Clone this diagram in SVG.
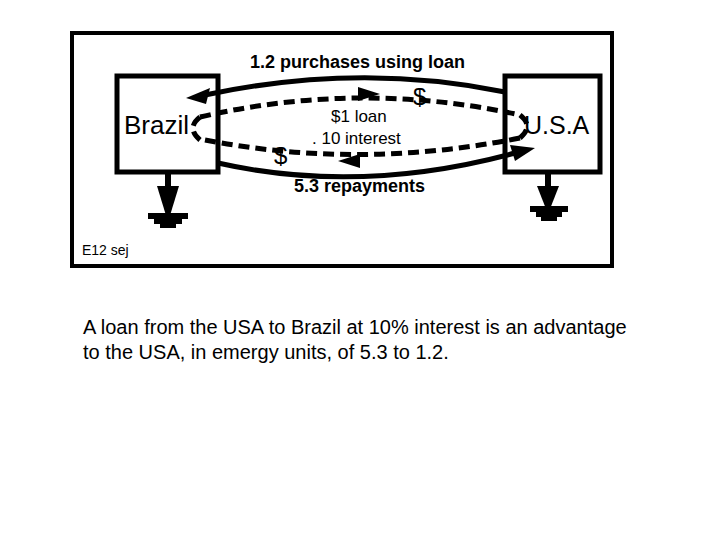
<svg xmlns="http://www.w3.org/2000/svg" width="720" height="540" viewBox="0 0 720 540">
<style>
.box{fill:#fff;stroke:#000;stroke-width:5}
.solid{fill:none;stroke:#000;stroke-width:5}
.dash{fill:none;stroke:#000;stroke-width:5;stroke-dasharray:11,6}
.t{font-family:"Liberation Sans",Arial,sans-serif;fill:#000}
.b{font-weight:bold;font-size:18px}
</style>
<rect x="72" y="33" width="540" height="233" fill="#fff" stroke="#000" stroke-width="4"/>
<g id="brazil"><rect class="box" x="117" y="76" width="101" height="96"/><text class="t" x="124" y="134" font-size="26">Brazil</text></g>
<g id="usa"><rect class="box" x="505" y="76" width="95" height="96"/><text class="t" x="524" y="134" font-size="25">U.S.A</text></g>
<g id="connectors">
<path class="solid" d="M505,92 Q360,62 205,95"/>
<polygon points="186,98 210,88 206,104"/>
<path class="solid" d="M218,163 Q360,195 515,153"/>
<polygon points="535,148 510,145 515,161"/>
<path class="dash" d="M200,117 Q360,80 520,115"/>
<polygon points="380,94 358,87 358,101"/>
<path class="dash" d="M520,138 Q360,170 205,140"/>
<polygon points="338,161 360,154 360,168"/>
<path class="dash" d="M200,117 Q186,128 200,140"/>
<path class="dash" d="M520,115 Q534,126 520,138"/>
<text class="t" x="413" y="105" font-size="24">$</text>
<text class="t" x="274" y="164" font-size="24">$</text>
<g id="g1"><line x1="168" y1="172" x2="168" y2="190" stroke="#000" stroke-width="6"/><polygon points="157,186 179,186 168,222"/><rect x="148" y="213" width="40" height="6"/><rect x="154" y="219" width="28" height="5"/><rect x="160" y="224" width="16" height="4"/></g>
<g id="g2"><line x1="548" y1="172" x2="548" y2="190" stroke="#000" stroke-width="6"/><polygon points="537,186 559,186 548,214"/><rect x="530" y="206" width="38" height="6"/><rect x="536" y="212" width="26" height="5"/><rect x="541" y="217" width="16" height="4"/></g>
</g>
<text class="t b" x="250" y="68">1.2 purchases using loan</text>
<text class="t b" x="294" y="192">5.3 repayments</text>
<text class="t" x="331" y="122" font-size="17">$1  loan</text>
<text class="t" x="312" y="144" font-size="17">. 10 interest</text>
<text class="t" x="82" y="255" font-size="14">E12 sej</text>
<text class="t" x="83" y="334" font-size="20">A loan from the USA to Brazil at 10% interest is an advantage</text>
<text class="t" x="83" y="359" font-size="20">to the USA, in emergy units, of 5.3 to 1.2.</text>
</svg>
